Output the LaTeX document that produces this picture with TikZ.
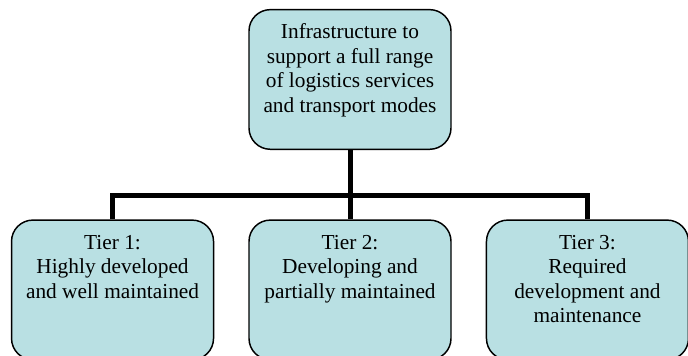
\documentclass[tikz,border=0pt]{standalone}
\usepackage{fontspec}
\setmainfont{Liberation Serif}
\usepackage{tikz}
\usetikzlibrary{positioning}
\definecolor{tierblue}{HTML}{B9E0E3}

% box text, set from the top of the box
\newcommand{\boxtext}[1]{\parbox[t][87pt][t]{143pt}{\centering\strut#1}}

\begin{document}
\begin{tikzpicture}[
  tierbox/.style={
    draw=black, line width=1.1pt, rounded corners=16pt,
    fill=tierblue, inner xsep=4.25pt, inner ysep=8.87pt,
    font=\fontsize{16}{18.4}\selectfont
  },
  link/.style={line width=3.75pt, black, line join=miter}
]
\useasboundingbox (0,0) rectangle (516pt,-267pt);

\node[tierbox] (top) at (262.5pt,-59.6pt)
  {\boxtext{Infrastructure to\\support a full range\\of logistics services\\and transport modes}};
\node[tierbox, below=52pt of top] (tier2)
  {\boxtext{Tier 2:\\Developing and\\partially maintained}};
\node[tierbox, left=25.5pt of tier2] (tier1)
  {\boxtext{Tier 1:\\Highly developed\\and well maintained}};
\node[tierbox, right=25.5pt of tier2] (tier3)
  {\boxtext{Tier 3:\\Required\\development and\\maintenance}};

% tree connectors
\coordinate[below=34pt of top.south] (hub);
\draw[link] (top) -- (tier2);
\draw[link] (tier1.north) |- (hub) -| (tier3.north);
\end{tikzpicture}
\end{document}
